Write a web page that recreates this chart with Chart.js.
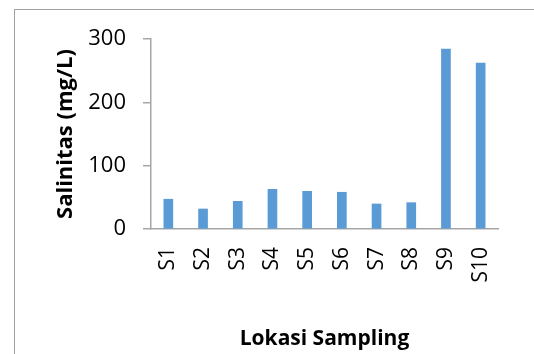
<!DOCTYPE html>
<html>
<head>
<meta charset="utf-8">
<script src="https://cdn.jsdelivr.net/npm/chart.js@4/dist/chart.umd.min.js"></script>
<style>
  html, body { margin: 0; padding: 0; background: #fff; }
  #wrap { width: 534px; height: 354px; }
</style>
</head>
<body>
<div id="wrap"><canvas id="salinityChart" width="534" height="354"></canvas></div>
<script>
// data
const locations = ['S1', 'S2', 'S3', 'S4', 'S5', 'S6', 'S7', 'S8', 'S9', 'S10'];
const salinity = [47, 31.6, 43.7, 62.6, 59.5, 58, 39.5, 41.6, 284, 262];
const yTicks = [0, 100, 200, 300];

const axisGray = '#a6a6a6';

// frame around the whole chart (cut off on the right and bottom)
const framePlugin = {
    id: 'frame',
    beforeDraw(chart) {
        const ctx = chart.ctx;
        ctx.save();
        ctx.strokeStyle = '#a0a0a0';
        ctx.lineWidth = 1;
        ctx.strokeRect(14.5, 9.5, 700, 500);
        ctx.restore();
    }
};

function createChart() {
    const el = document.getElementById('salinityChart');

    let data = {
        labels: locations,
        datasets: [{
            label: 'Salinitas',
            data: salinity,
            backgroundColor: '#5b9bd5',
            borderWidth: 0,
            barThickness: 9
        }]
    };

    let config = {
        type: 'bar',
        data: data,
        plugins: [framePlugin],
        options: {
            responsive: false,
            animation: false,
            layout: {
                padding: { left: 0, top: 39, right: 36, bottom: 0 }
            },
            plugins: {
                legend: { display: false },
                tooltip: { enabled: false }
            },
            scales: {
                x: {
                    grid: { display: true, drawOnChartArea: false, drawTicks: false },
                    border: { display: true, color: axisGray, width: 1.5 },
                    ticks: {
                        minRotation: 90,
                        maxRotation: 90,
                        padding: 18,
                        color: '#000',
                        font: { family: 'Open Sans', size: 21 }
                    },
                    title: {
                        display: true,
                        text: 'Lokasi Sampling',
                        color: '#000',
                        font: { family: 'Open Sans', size: 21, weight: 'bold' },
                        padding: { top: 0, bottom: 2 }
                    },
                    afterFit(scale) { scale.height = 125; }
                },
                y: {
                    min: 0,
                    max: 300,
                    afterBuildTicks(scale) {
                        scale.ticks = yTicks.map(v => ({ value: v }));
                    },
                    grid: { display: true, drawOnChartArea: false, drawTicks: true, tickLength: 8, color: axisGray, lineWidth: 1.5 },
                    border: { display: true, color: axisGray, width: 1.5 },
                    ticks: {
                        padding: 17,
                        color: '#000',
                        font: { family: 'Open Sans', size: 22 }
                    },
                    title: {
                        display: true,
                        text: 'Salinitas (mg/L)',
                        color: '#000',
                        font: { family: 'Open Sans', size: 22, weight: 'bold' },
                        padding: { top: 53, bottom: 0 }
                    },
                    afterFit(scale) { scale.width = 151; }
                }
            }
        }
    };

    return new Chart(el, config);
}

createChart();
</script>
</body>
</html>
